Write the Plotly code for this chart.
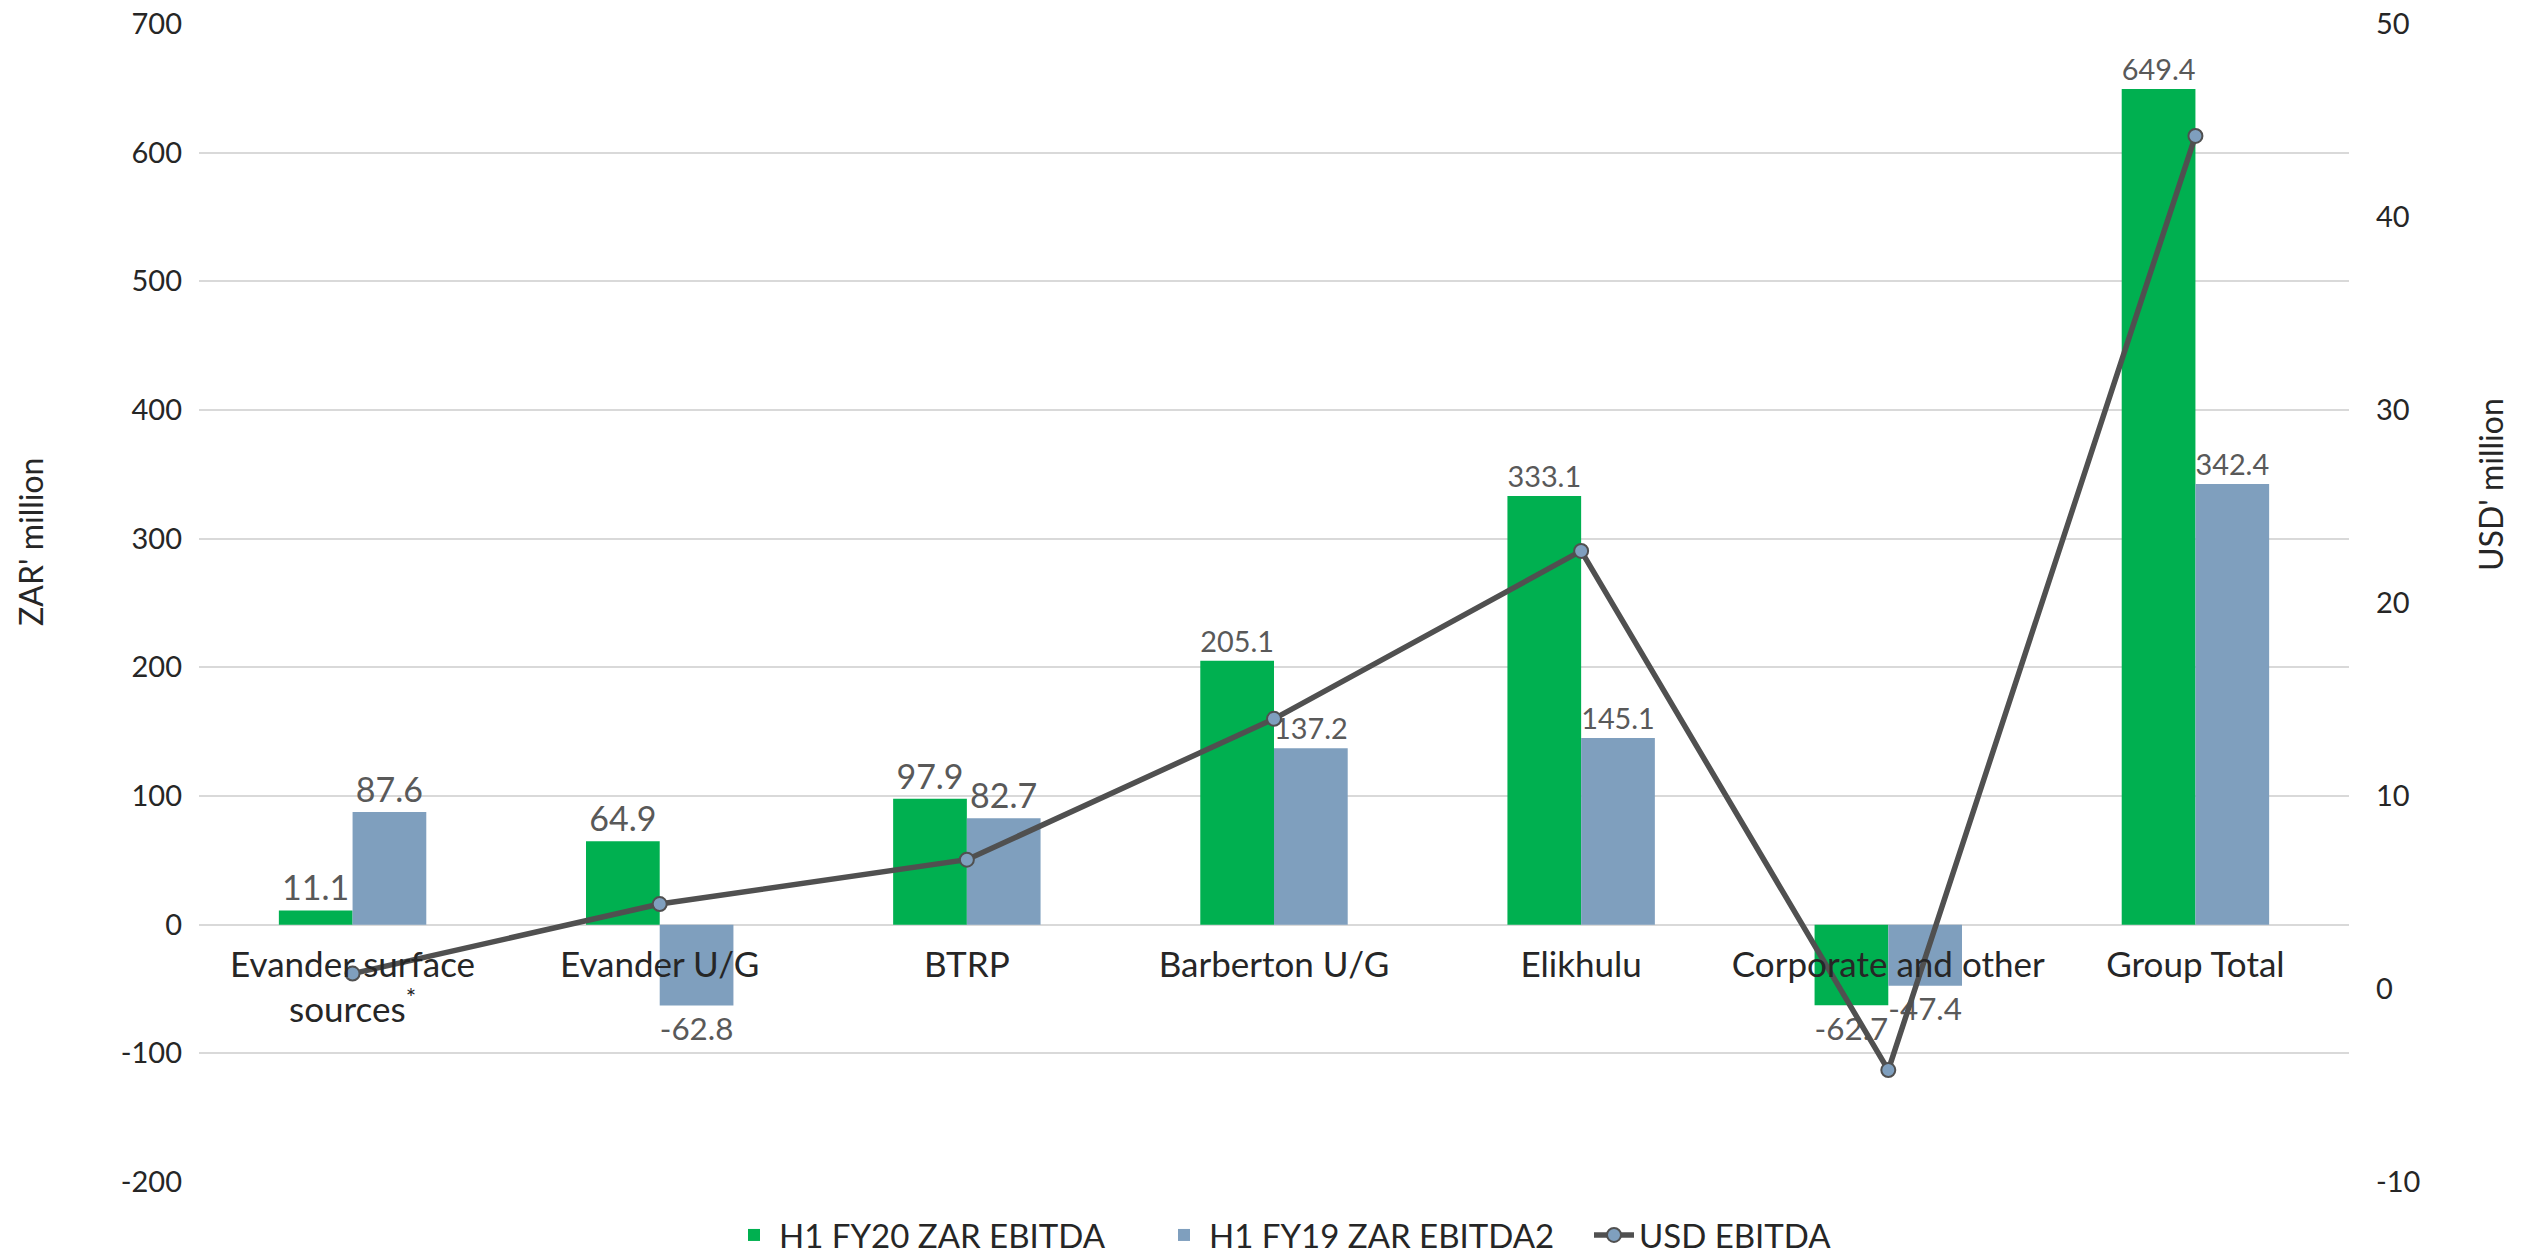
import plotly.graph_objects as go

categories = ["Evander surface<br>sources<sup>*</sup>", "Evander U/G", "BTRP", "Barberton U/G",
              "Elikhulu", "Corporate and other", "Group Total"]
zar_fy20 = [11.1, 64.9, 97.9, 205.1, 333.1, -62.7, 649.4]
zar_fy19 = [87.6, -62.8, 82.7, 137.2, 145.1, -47.4, 342.4]
usd_ebitda = [0.8, 4.4, 6.7, 14.0, 22.7, -4.2, 44.2]

y_ticks = [-200, -100, 0, 100, 200, 300, 400, 500, 600, 700]
y2_ticks = [-10, 0, 10, 20, 30, 40, 50]

y_range = [-200, 700]
y2_range = [-10, 50]

FONT = "Lato"
GREEN = "#00B050"
BLUE = "#7F9FBE"
LINE = "#505050"
LABEL = "#595959"
TICK = "#262626"
GRID = "#D9D9D9"

W, H = 2531, 1255
L, R, T, B = 199, 182, 24, 73

fig = go.Figure()
fig.add_trace(go.Bar(
    x=categories, y=zar_fy20, name="H1 FY20 ZAR EBITDA",
    marker=dict(color=GREEN, line=dict(width=0)),
    text=[f"{v:.1f}" for v in zar_fy20], textposition="outside",
    textfont=dict(family=FONT, size=34, color=LABEL), cliponaxis=False,
))
fig.add_trace(go.Bar(
    x=categories, y=zar_fy19, name="H1 FY19 ZAR EBITDA2",
    marker=dict(color=BLUE, line=dict(width=0)),
    text=[f"{v:.1f}" for v in zar_fy19], textposition="outside",
    textfont=dict(family=FONT, size=34, color=LABEL), cliponaxis=False,
))
fig.add_trace(go.Scatter(
    x=categories, y=usd_ebitda, name="USD EBITDA", yaxis="y2",
    mode="lines+markers",
    line=dict(color=LINE, width=5.5),
    marker=dict(size=14, color=BLUE, line=dict(color=LINE, width=2)),
    cliponaxis=False,
))

zero_pos = (0 - y_range[0]) / (y_range[1] - y_range[0])
plot_h = H - T - B
plot_w = W - L - R

fig.update_layout(
    width=W, height=H,
    margin=dict(l=L, r=R, t=T, b=B, autoexpand=False),
    paper_bgcolor="white", plot_bgcolor="white",
    font=dict(family=FONT, size=30, color=TICK),
    barmode="group", bargap=0.52, bargroupgap=0,
    showlegend=True,
    legend=dict(orientation="h", x=0.5 + 100 / plot_w, xanchor="center",
                y=-53 / plot_h, yanchor="middle",
                font=dict(family=FONT, size=33, color=TICK), itemwidth=40,
                entrywidth=375, traceorder="normal"),
    xaxis=dict(anchor="free", position=zero_pos, showline=False, showgrid=False,
               ticks="", tickfont=dict(family=FONT, size=35, color=TICK),
               ticklabelstandoff=16),
    yaxis=dict(range=y_range, tickvals=y_ticks, ticktext=[str(v) for v in y_ticks],
               showgrid=True, gridcolor=GRID, gridwidth=2,
               zeroline=True, zerolinecolor=GRID, zerolinewidth=2,
               showline=False, ticks="", ticklabelstandoff=16,
               ticklabeloverflow="allow",
               tickfont=dict(family=FONT, size=29, color=TICK)),
    yaxis2=dict(range=y2_range, tickvals=y2_ticks, ticktext=[str(v) for v in y2_ticks],
                overlaying="y", side="right",
                showgrid=False, zeroline=False, showline=False, ticks="",
                ticklabelstandoff=26, ticklabeloverflow="allow",
                tickfont=dict(family=FONT, size=29, color=TICK)),
    annotations=[
        dict(text="ZAR' million", textangle=-90, xref="paper", yref="paper",
             x=0, xshift=30 - L, y=1 - (542 - T) / plot_h,
             xanchor="center", yanchor="middle", showarrow=False,
             font=dict(family=FONT, size=32, color=TICK)),
        dict(text="USD' million", textangle=-90, xref="paper", yref="paper",
             x=1, xshift=2491 - (W - R), y=1 - (485 - T) / plot_h,
             xanchor="center", yanchor="middle", showarrow=False,
             font=dict(family=FONT, size=32, color=TICK)),
    ],
)

fig.write_html("out.html", config={"displayModeBar": False},
               post_script="document.body.style.margin='0';")
